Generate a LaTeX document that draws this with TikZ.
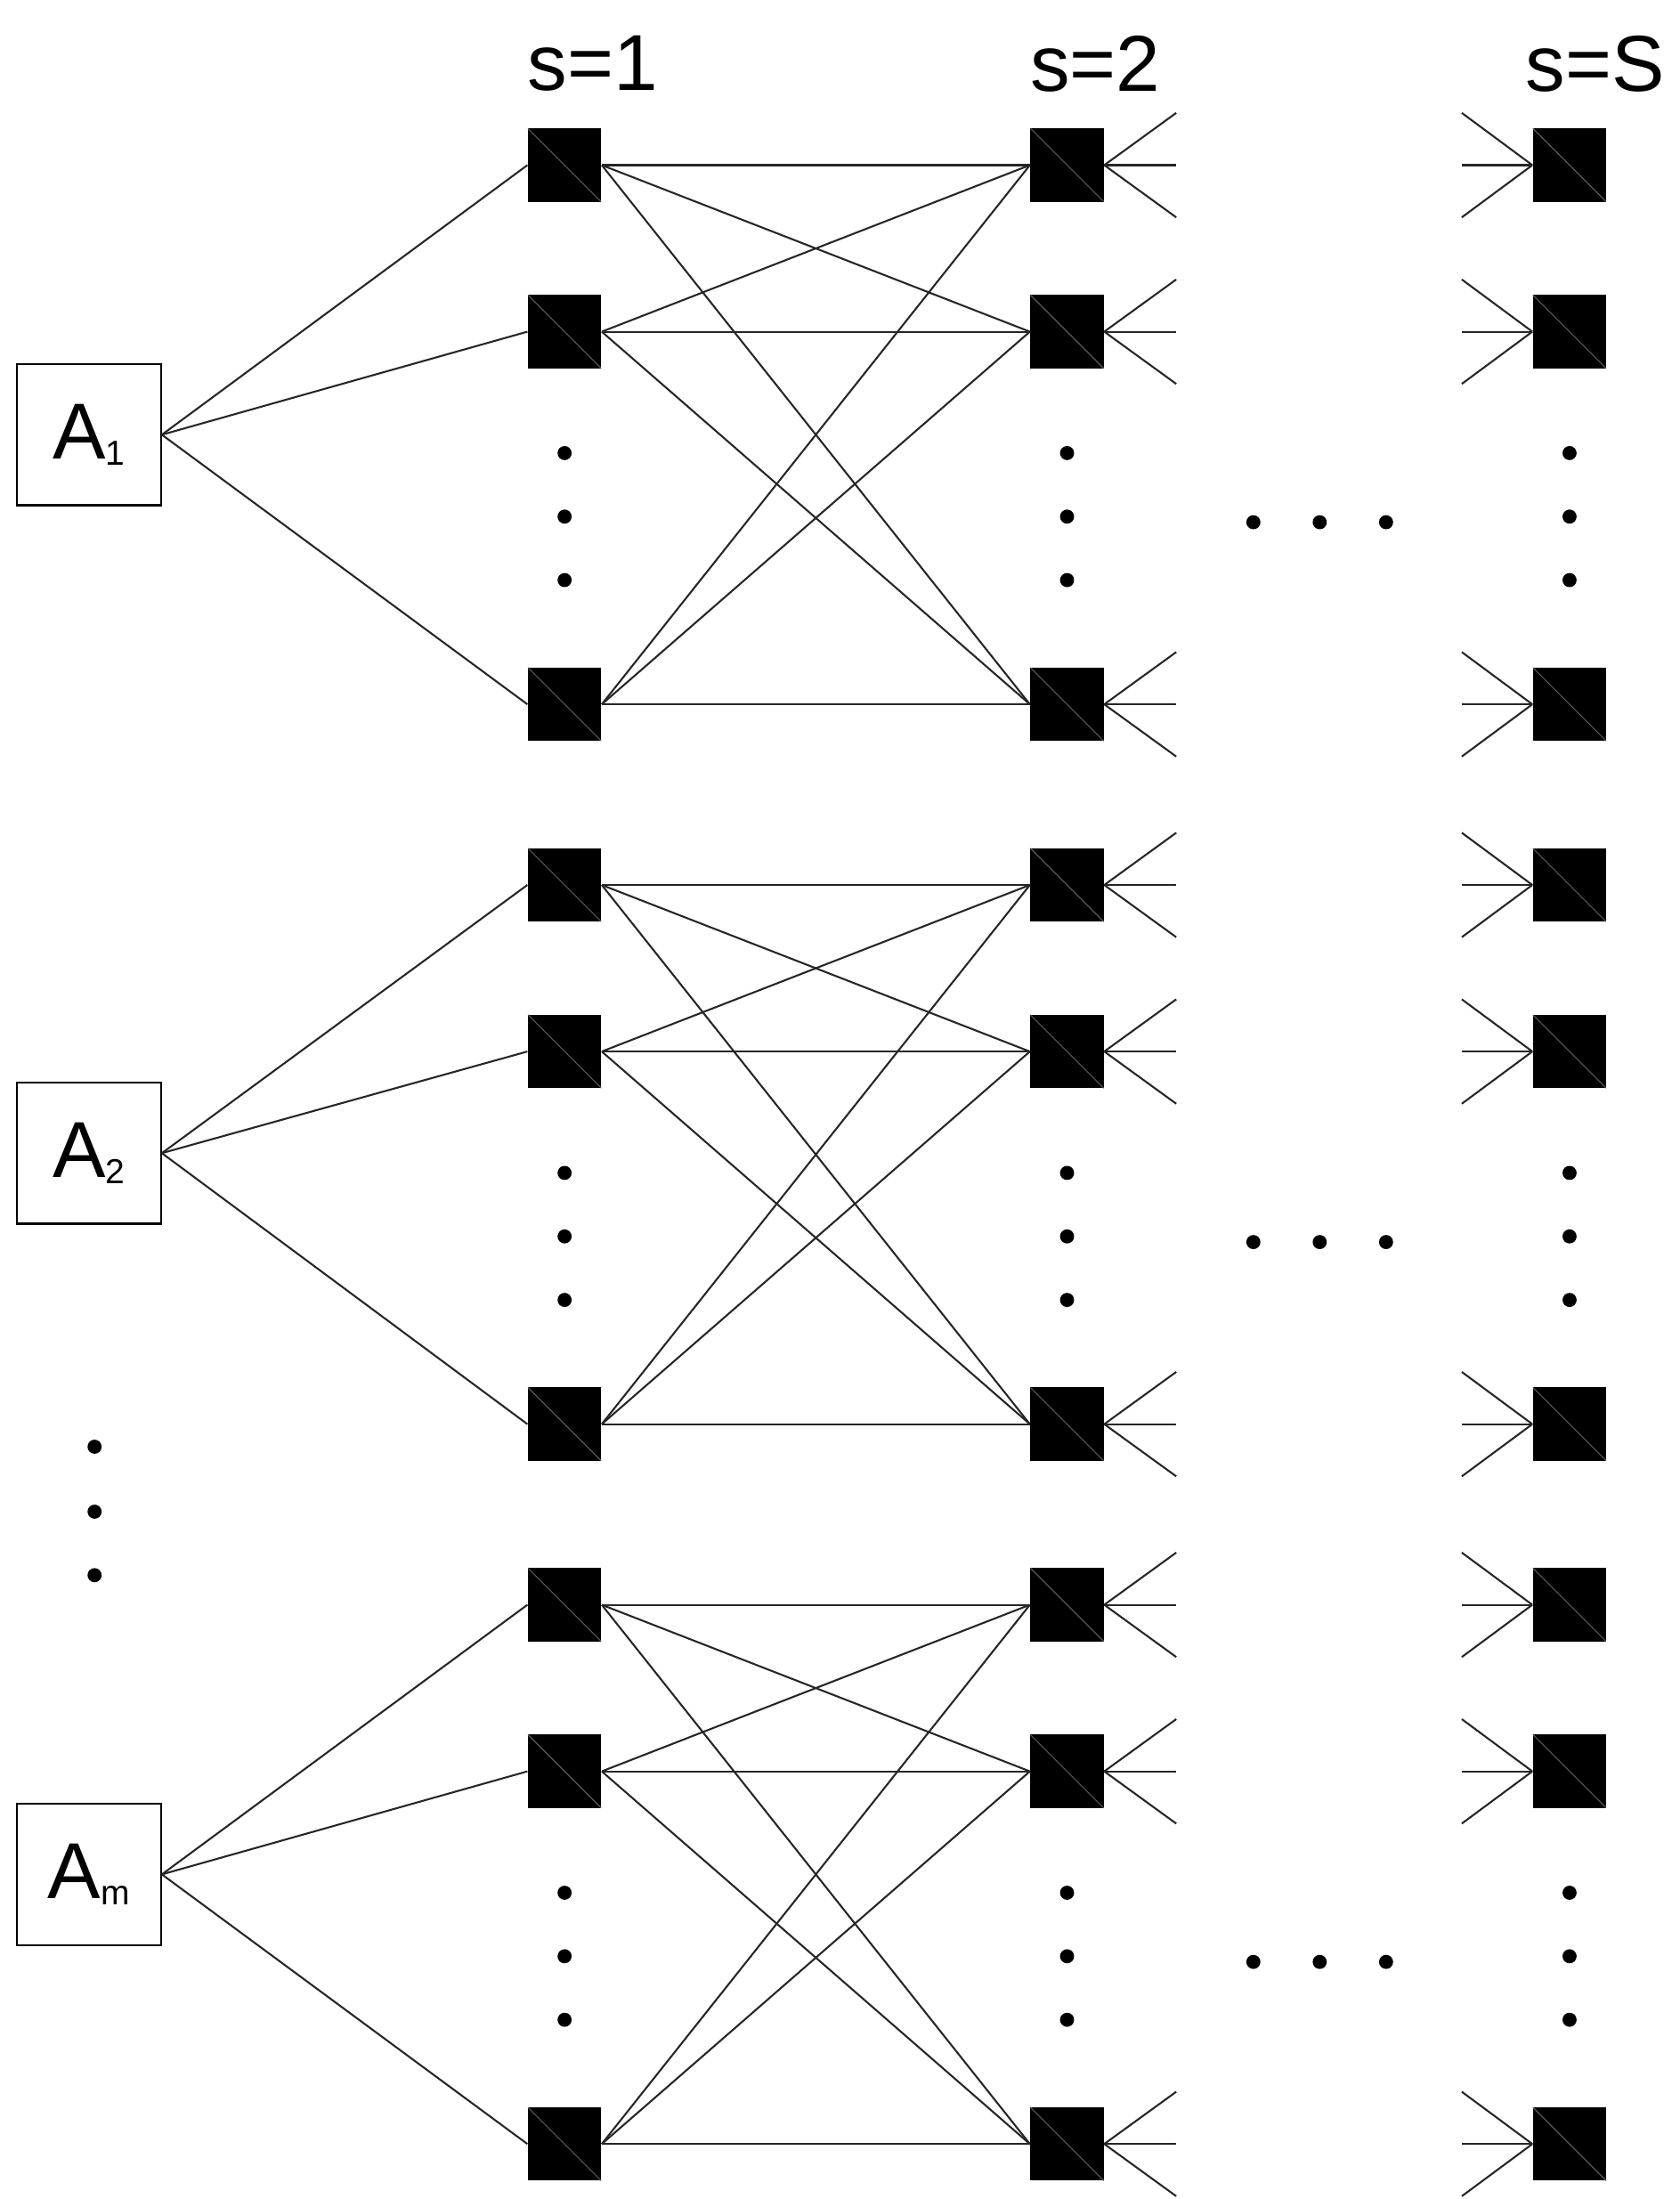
\documentclass[tikz,border=0pt]{standalone}
\usepackage{fontspec}
\setmainfont{Liberation Sans}
\usepackage{tikz}
\usetikzlibrary{calc}
\tikzset{
	every unit/.style={
		rectangle,
		fill=black,
		minimum size=1.04cm,
		inner sep=0pt,
		path picture={\draw[gray!70!black,line width=0.4pt] (path picture bounding box.north west) -- (path picture bounding box.south east);}
	},
	area box/.style={
		rectangle,
		draw,
		line width=0.8pt,
		minimum width=2.04cm,
		minimum height=2cm,
		font=\fontsize{32}{36}\selectfont
	},
	layer label/.style={
		font=\fontsize{32}{36}\selectfont
	},
	dot/.style={circle, fill=black, inner sep=0pt, minimum size=0.2cm},
	link/.style={line width=0.75pt, black!85},
}

\begin{document}
\begin{tikzpicture}[x=0.02cm,y=-0.02cm]
\useasboundingbox (0,0) rectangle (1190,1558);

% stage labels
\node[layer label] (lab1) at (420,45) {s=1};
\node[layer label] (lab2) at (776,45) {s=2};
\node[layer label] (labS) at (1130,45) {s=S};

% areas
\node[area box] (A1) at (63,308) {A\raisebox{-0.15ex}{\fontsize{14}{16}\selectfont 1}};
\node[area box] (A2) at (63,817) {A\raisebox{-0.15ex}{\fontsize{14}{16}\selectfont 2}};
\node[area box] (A3) at (63,1328) {A\raisebox{-0.15ex}{\fontsize{14}{16}\selectfont m}};

\foreach \g/\yo in {1/0,2/510,3/1020}{
	% units of each stage
	\foreach \r/\yy in {1/117,2/235,3/499}{
		\node[every unit] (u\g-\r-1) at (400,\yy+\yo) {};
		\node[every unit] (u\g-\r-2) at (756,\yy+\yo) {};
		\node[every unit] (u\g-\r-3) at (1112,\yy+\yo) {};
		\draw[link] (A\g.east) -- (u\g-\r-1.west);
		% fans between stage 2 and stage S
		\coordinate (o\g-\r) at ($(u\g-\r-2.east)+(51,0)$);
		\draw[link] (u\g-\r-2.east) -- +(51,-37);
		\draw[link] (u\g-\r-2.east) -- (o\g-\r);
		\draw[link] (u\g-\r-2.east) -- +(51,37);
		\coordinate (i\g-\r) at ($(u\g-\r-3.west)+(-50,0)$);
		\draw[link] (u\g-\r-3.west) -- +(-50,-37);
		\draw[link] (u\g-\r-3.west) -- (i\g-\r);
		\draw[link] (u\g-\r-3.west) -- +(-50,37);
	}
	\foreach \a in {1,2,3}{
		\foreach \b in {1,2,3}{
			\draw[link] (u\g-\a-1.east) -- (u\g-\b-2.west);
		}
	}
	% dots
	\foreach \dy [count=\k] in {321,366,411}{
		\node[dot] (d\g-\k-1) at (400,\dy+\yo) {};
		\node[dot] (d\g-\k-2) at (756,\dy+\yo) {};
		\node[dot] (d\g-\k-3) at (1112,\dy+\yo) {};
	}
	\foreach \dx [count=\k] in {888,935,982}{
		\node[dot] (h\g-\k) at (\dx,370+\yo) {};
	}
}
\foreach \dy [count=\k] in {1025,1071,1116}{
	\node[dot] (v\k) at (67,\dy) {};
}
\end{tikzpicture}
\end{document}
